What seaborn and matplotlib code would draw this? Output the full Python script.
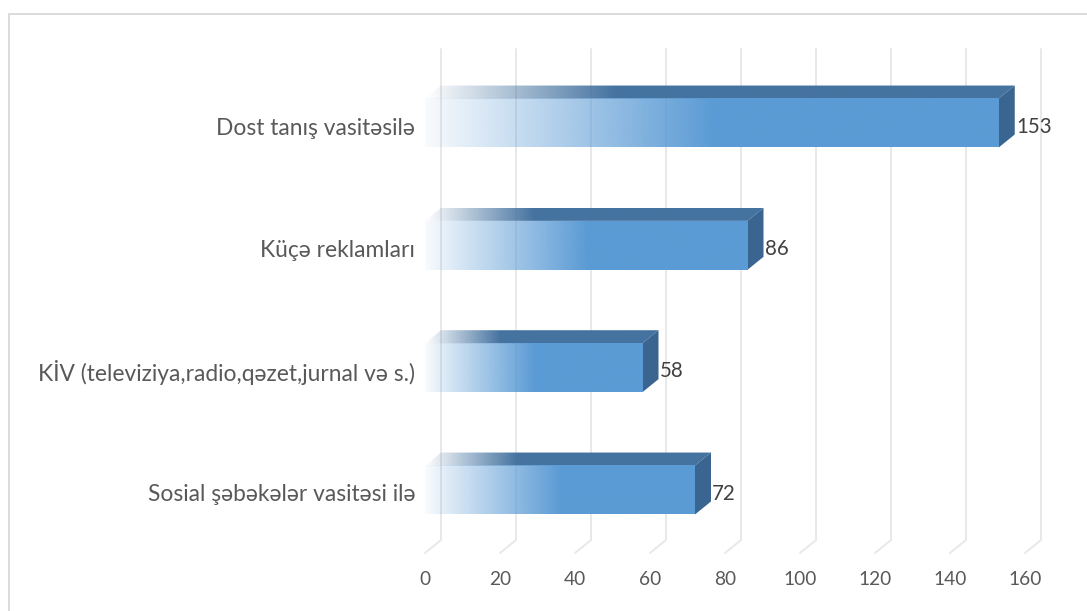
import numpy as np
import pandas as pd
import matplotlib
matplotlib.use("Agg")
import matplotlib.pyplot as plt
import matplotlib.transforms as mtransforms
from matplotlib.patches import Polygon, Rectangle
from matplotlib.colors import to_rgb
import seaborn as sns

# Survey answers: how respondents learned about the service
categories = [
    "Dost tanış vasitəsilə",
    "Küçə reklamları",
    "KİV (televiziya,radio,qəzet,jurnal və s.)",
    "Sosial şəbəkələr vasitəsi ilə",
]
values = [153, 86, 58, 72]
x_ticks = [0, 20, 40, 60, 80, 100, 120, 140, 160]

FRONT = "#5B9BD5"
TOP = "#4573A0"
SIDE = "#3A6590"
GRID = "#E8E8E8"

sns.set_theme(style="white")
plt.rcParams["font.family"] = ["Lato", "DejaVu Sans"]

W, H = 1087, 611
fig = plt.figure(figsize=(W / 100, H / 100), dpi=100)
x0_px, x1_px = 425, 1025
y_top_px, y_bot_px = 49, 553
ax = fig.add_axes([x0_px / W, 1 - y_bot_px / H,
                   (x1_px - x0_px) / W, (y_bot_px - y_top_px) / H])

df = pd.DataFrame({"category": categories, "value": values})
sns.barplot(data=df, x="value", y="category", orient="h", width=0.4,
            color=FRONT, ax=ax, zorder=3)

# axis limits (category axis runs top to bottom)
y_lo, y_hi = 3.515, -0.605
ax.set_xlim(0, 160)
ax.set_ylim(y_lo, y_hi)

# depth of the pseudo-3D extrusion in data units
dx = 16 / 3.75
dy = 13 / 122.33
y_back_bottom = 3.409


def ramp(color, solid_at, a0, n=300):
    r, g, b = to_rgb(color)
    t = np.linspace(0, 1, n)
    a = np.clip(a0 + (1 - a0) * t / solid_at, 0, 1)
    img = np.zeros((1, n, 4))
    img[..., 0], img[..., 1], img[..., 2], img[..., 3] = r, g, b, a
    return img


# gridlines on the back wall and floor
for t in x_ticks:
    ax.plot([t + dx, t + dx, t], [y_hi, y_back_bottom, y_lo], color=GRID,
            lw=1.4, zorder=1, clip_on=False, solid_joinstyle="miter")

for p in list(ax.patches):
    x_left = p.get_x()
    v = p.get_width()
    yt = p.get_y()
    yb = yt + p.get_height()
    p.set_visible(False)

    # top face
    top = Polygon([(x_left, yt), (v, yt), (v + dx, yt - dy), (x_left + dx, yt - dy)],
                  closed=True, facecolor="none", edgecolor="none", zorder=4)
    ax.add_patch(top)
    im = ax.imshow(ramp(TOP, 0.32, 0.0), extent=(x_left, v + dx, yb, yt - dy),
                   aspect="auto", interpolation="bilinear", zorder=4, clip_on=True)
    im.set_clip_path(top)

    # side face
    ax.add_patch(Polygon([(v, yt), (v + dx, yt - dy), (v + dx, yb - dy), (v, yb)],
                         closed=True, facecolor=SIDE, edgecolor="none", zorder=4,
                         clip_on=False))

    # front face with the fading fill
    ax.imshow(ramp(FRONT, 0.5, 0.04), extent=(x_left, v, yb, yt),
              aspect="auto", interpolation="bilinear", zorder=5, clip_on=False)

    ax.text(v + dx + 0.3, (yt + yb) / 2 + 0.03, f"{v:g}", ha="left", va="center",
            fontsize=14.8, color="#404040", zorder=6)

ax.set_xlim(0, 160)
ax.set_ylim(y_lo, y_hi)
ax.set_xticks(x_ticks)
ax.set_xticklabels([str(t) for t in x_ticks])
ax.set_xlabel("")
ax.set_ylabel("")
ax.tick_params(axis="x", length=0, pad=13, labelsize=13.8, labelcolor="#595959")
ax.tick_params(axis="y", length=0, pad=7, labelsize=16.4, labelcolor="#595959")
shift = mtransforms.ScaledTranslation(0, -3 / 100, fig.dpi_scale_trans)
for lbl in ax.get_yticklabels():
    lbl.set_transform(lbl.get_transform() + shift)
for s in ax.spines.values():
    s.set_visible(False)
ax.set_facecolor("none")
ax.grid(False)

# chart area border
fig.patches.append(Rectangle((9 / W, -0.1), 1.5, 1 - 14 / H + 0.1,
                             transform=fig.transFigure, fill=False,
                             edgecolor="#D9D9D9", lw=1.3))

fig.savefig("out.png", dpi=100)
